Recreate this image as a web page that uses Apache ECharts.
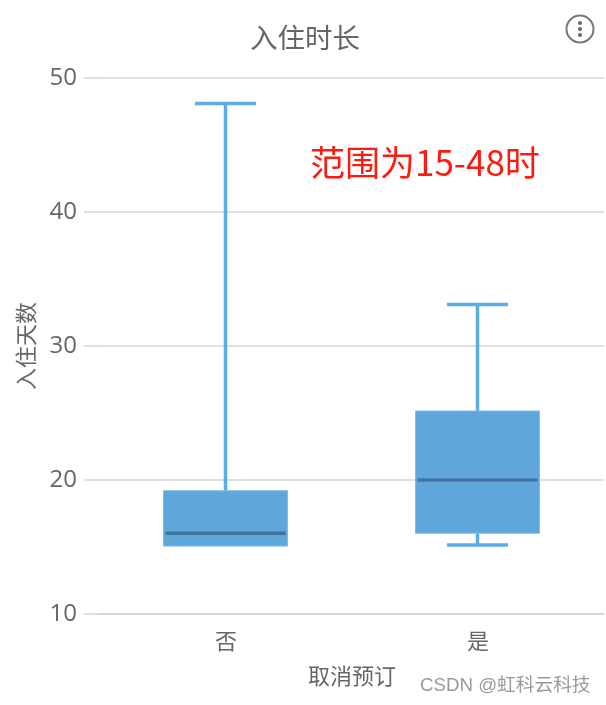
<!DOCTYPE html>
<html><head><meta charset="utf-8">
<style>html,body{margin:0;padding:0;background:#fff}#c{width:606px;height:705px}</style>
<script src="https://cdn.jsdelivr.net/npm/echarts@6/dist/echarts.min.js"></script>
</head><body><div id="c"></div>
<script>
const categories = ['否', '是'];
const lowValues = [15.07, 15.14];
const q1Values = [15.07, 16.03];
const medianValues = [16.03, 20.0];
const q3Values = [19.2, 25.15];
const highValues = [48.1, 33.1];
const rows = categories.map((c, i) => [i, lowValues[i], q1Values[i], medianValues[i], q3Values[i], highValues[i]]);
const FONT = '"Open Sans","Noto Sans CJK SC",sans-serif';
const chart = echarts.init(document.getElementById('c'), null, {renderer: 'canvas'});
chart.setOption({
  animation: false,
  backgroundColor: '#fff',
  title: {text: '入住时长', left: 245, top: 21,
    textStyle: {fontSize: 27.5, fontWeight: 'normal', color: '#666', fontFamily: FONT}},
  grid: {left: 100, right: 2, top: 78, bottom: 91},
  xAxis: {type: 'category', data: categories, name: '取消预订', nameLocation: 'middle', nameGap: 53,
    nameTextStyle: {fontSize: 22, color: '#666', fontFamily: FONT},
    axisLine: {show: true, lineStyle: {color: '#d4d4d4', width: 1.5}}, axisTick: {show: false},
    axisLabel: {fontSize: 22, color: '#666', margin: 18, fontFamily: FONT}},
  yAxis: {type: 'value', min: 10, max: 50, interval: 10, name: '入住天数', nameLocation: 'middle', nameGap: 61,
    nameTextStyle: {fontSize: 22, color: '#666', fontFamily: FONT},
    axisLine: {show: false},
    axisTick: {show: true, length: 16, lineStyle: {color: '#d4d4d4', width: 1.5}},
    splitLine: {lineStyle: {color: '#d4d4d4', width: 1.5}},
    axisLabel: {fontSize: 24, color: '#666', margin: 23, padding: [4, 0, 0, 0], fontFamily: FONT}},
  series: [{
    type: 'custom',
    data: rows,
    encode: {x: 0, y: [1, 2, 3, 4, 5]},
    clip: false,
    renderItem(params, api) {
      const i = api.value(0);
      const band = api.size([1, 0])[0];
      const boxW = band * 0.492, capW = band * 0.242;
      const cx = api.coord([i, 0])[0] - 0.5;
      const y = k => api.coord([i, api.value(k)])[1];
      const line = (x1, y1, x2, y2, color, w) => ({type: 'line', shape: {x1, y1, x2, y2},
        style: {stroke: color, lineWidth: w, fill: null}});
      const W = '#5dade2', M = '#41759c';
      const kids = [
        line(cx, y(5), cx, y(4), W, 3.5),
        line(cx - capW / 2, y(5), cx + capW / 2, y(5), W, 3.5)
      ];
      if (api.value(1) < api.value(2)) {
        kids.push(line(cx, y(2), cx, y(1), W, 3.5),
          line(cx - capW / 2, y(1), cx + capW / 2, y(1), W, 3.5));
      }
      kids.push({type: 'rect', shape: {x: cx - boxW / 2, y: y(4), width: boxW, height: y(2) - y(4)},
          style: {fill: '#5fa6db', stroke: '#7fbbe6', lineWidth: 1}},
        line(cx - boxW / 2 + 2, y(3), cx + boxW / 2 - 2, y(3), M, 3.5));
      return {type: 'group', children: kids};
    }
  }],
  graphic: [
    {type: 'text', left: 310, top: 145, style: {text: '范围为15-48时', fontSize: 35, fill: '#ff1a0f', fontFamily: '"Noto Sans CJK SC",sans-serif'}},
    {type: 'text', left: 420, top: 677, style: {text: 'CSDN @虹科云科技', fontSize: 18.7, fill: '#9a9a9a', fontFamily: '"Liberation Sans","Noto Sans CJK SC",sans-serif'}},
    {type: 'circle', shape: {cx: 580, cy: 29, r: 13.5}, style: {fill: 'none', stroke: '#777', lineWidth: 2}},
    {type: 'circle', shape: {cx: 580, cy: 23, r: 2}, style: {fill: '#666'}},
    {type: 'circle', shape: {cx: 580, cy: 29, r: 2}, style: {fill: '#666'}},
    {type: 'circle', shape: {cx: 580, cy: 35, r: 2}, style: {fill: '#666'}}
  ]
});
</script></body></html>
